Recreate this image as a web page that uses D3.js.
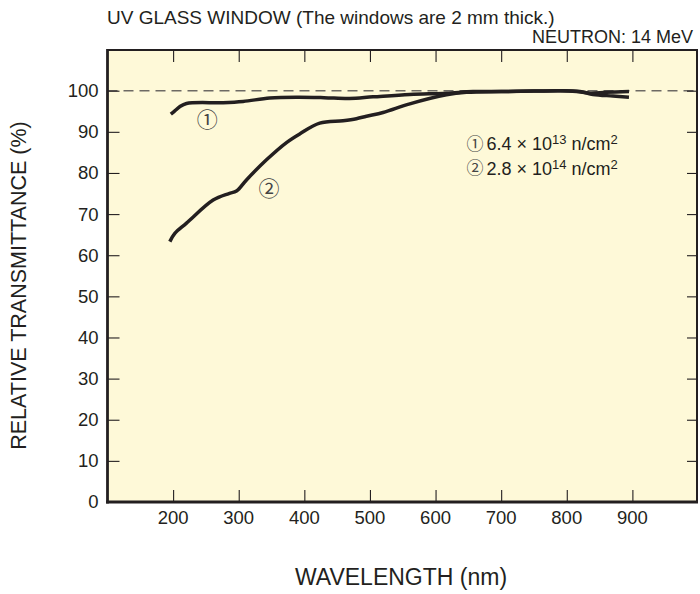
<!DOCTYPE html>
<html><head><meta charset="utf-8">
<script src="https://cdn.jsdelivr.net/npm/d3@7"></script>
<style>body{margin:0;background:#fff}svg{display:block}text{font-family:"Liberation Sans",Arial,sans-serif;fill:#231f20}</style>
</head><body>
<script>
const title = "UV GLASS WINDOW (The windows are 2 mm thick.)";
const subtitle = "NEUTRON: 14 MeV";
const xLabel = "WAVELENGTH (nm)";
const yLabel = "RELATIVE TRANSMITTANCE (%)";
const xTicks = [200,300,400,500,600,700,800,900];
const yTicks = [0,10,20,30,40,50,60,70,80,90,100];
const series1Wl  = [196.5,202.6,210,220.4,276.2,306.7,347.3,388,430,468.8,504.7,560.7,616.6,657.1,700,750,789.6,820,840,870.4,894.8];
const series1Val = [94.3,95.1,96.1,96.9,97.1,97.4,98.2,98.4,98.3,98.1,98.5,99.1,99.4,99.8,99.8,99.9,100.0,99.8,99.1,98.7,98.4];
const series2Wl  = [195,202.6,220.4,261,285,296.6,311.8,342.3,372.8,393,423.5,459,479.4,494.7,520,560.7,616.6,647,700,750,790,815,835,860,894.8];
const series2Val = [63.3,65.3,67.8,73.4,75.0,75.6,78.3,83.2,87.4,89.5,92.1,92.7,93.2,93.8,94.7,96.8,99.0,99.6,99.8,99.9,100.0,99.8,99.4,99.6,99.8];
const legendMarks = ["①","②"];
const legendLabels = [["6.4 × 10","13"," n/cm","2"],["2.8 × 10","14"," n/cm","2"]];

const W=700,H=594, L=107.5, R=697, T=50, B=502;
const svg=d3.select("body").append("svg").attr("width",W).attr("height",H);
const x=d3.scaleLinear().domain([100,1000]).range([L,R+1]);
const y=d3.scaleLinear().domain([0,100]).range([B,90.7]);
const ink="#231f20";

svg.append("rect").attr("x",L).attr("y",T).attr("width",R-L).attr("height",B-T).attr("fill","#fef9d8");

// dashed 100% line
svg.append("line").attr("x1",L).attr("x2",R).attr("y1",y(100)).attr("y2",y(100))
  .attr("stroke","#6d6a64").attr("stroke-width",1.5).attr("stroke-dasharray","10,6");

// axes with inward ticks
const yt=yTicks.filter(d=>d>0);
const gl=svg.append("g").attr("transform",`translate(${L},0)`).call(d3.axisRight(y).tickValues(yt).tickSize(12).tickFormat(""));
const gr=svg.append("g").attr("transform",`translate(${R},0)`).call(d3.axisLeft(y).tickValues(yt).tickSize(10).tickFormat(""));
const gb=svg.append("g").attr("transform",`translate(0,${B})`).call(d3.axisTop(x).tickValues(xTicks).tickSize(12).tickFormat(""));
const gt=svg.append("g").attr("transform",`translate(0,${T})`).call(d3.axisBottom(x).tickValues(xTicks).tickSize(12).tickFormat(""));
[gl,gr,gb,gt].forEach(g=>{g.select(".domain").remove();g.selectAll("line").attr("stroke",ink).attr("stroke-width",1.1);});

// frame
svg.append("line").attr("x1",L).attr("x2",R).attr("y1",T).attr("y2",T).attr("stroke",ink).attr("stroke-width",2);
svg.append("line").attr("x1",R).attr("x2",R).attr("y1",T-1).attr("y2",B).attr("stroke",ink).attr("stroke-width",2);
svg.append("line").attr("x1",L).attr("x2",L).attr("y1",T-1).attr("y2",B+1.5).attr("stroke",ink).attr("stroke-width",2.8);
svg.append("line").attr("x1",L-1.4).attr("x2",R+1).attr("y1",B).attr("y2",B).attr("stroke",ink).attr("stroke-width",2.8);

// tick labels
svg.append("g").selectAll("text").data(yTicks).join("text")
  .attr("x",L-9).attr("y",d=>y(d)).attr("dy","0.35em").attr("text-anchor","end").attr("font-size",18.5).text(d=>d);
svg.append("g").selectAll("text").data(xTicks).join("text")
  .attr("x",d=>x(d)).attr("y",B+16).attr("dy","0.35em").attr("text-anchor","middle").attr("font-size",18.5).text(d=>d);

// titles
svg.append("text").attr("x",107).attr("y",24).attr("font-size",19).text(title);
svg.append("text").attr("x",693).attr("y",43).attr("text-anchor","end").attr("font-size",18).text(subtitle);
svg.append("text").attr("x",401).attr("y",585).attr("text-anchor","middle").attr("font-size",23).text(xLabel);
svg.append("text").attr("transform",`translate(26,285.5) rotate(-90)`).attr("text-anchor","middle").attr("font-size",21.5).text(yLabel);

// curves
const line=d3.line().x(d=>x(d[0])).y(d=>y(d[1])).curve(d3.curveCatmullRom.alpha(0.5));
const s1=series1Wl.map((w,i)=>[w,series1Val[i]]);
const s2=series2Wl.map((w,i)=>[w,series2Val[i]]);
[s1,s2].forEach(s=>svg.append("path").datum(s).attr("d",line).attr("fill","none").attr("stroke",ink).attr("stroke-width",3.5).attr("stroke-linejoin","round"));

// curve labels
const circ="Noto Sans CJK JP";
svg.append("text").attr("x",x(252)).attr("y",y(93.0)).attr("dy","0.36em").attr("text-anchor","middle").attr("font-size",21).style("font-family",circ).style("fill","#444").text(legendMarks[0]);
svg.append("text").attr("x",x(346)).attr("y",y(76.3)).attr("dy","0.36em").attr("text-anchor","middle").attr("font-size",21).style("font-family",circ).style("fill","#444").text(legendMarks[1]);

// legend
legendLabels.forEach((p,i)=>{
  const by=150+i*24.5;
  svg.append("text").attr("x",475).attr("y",by-6.5).attr("dy","0.36em").attr("text-anchor","middle").attr("font-size",17).style("font-family",circ).style("fill","#444").text(legendMarks[i]);
  const t=svg.append("text").attr("x",486.5).attr("y",by).attr("font-size",18);
  t.append("tspan").text(p[0]);
  t.append("tspan").attr("font-size",13).attr("dy",-6).text(p[1]);
  t.append("tspan").attr("dy",6).text(p[2]);
  t.append("tspan").attr("font-size",13).attr("dy",-6).text(p[3]);
});
</script>
</body></html>
